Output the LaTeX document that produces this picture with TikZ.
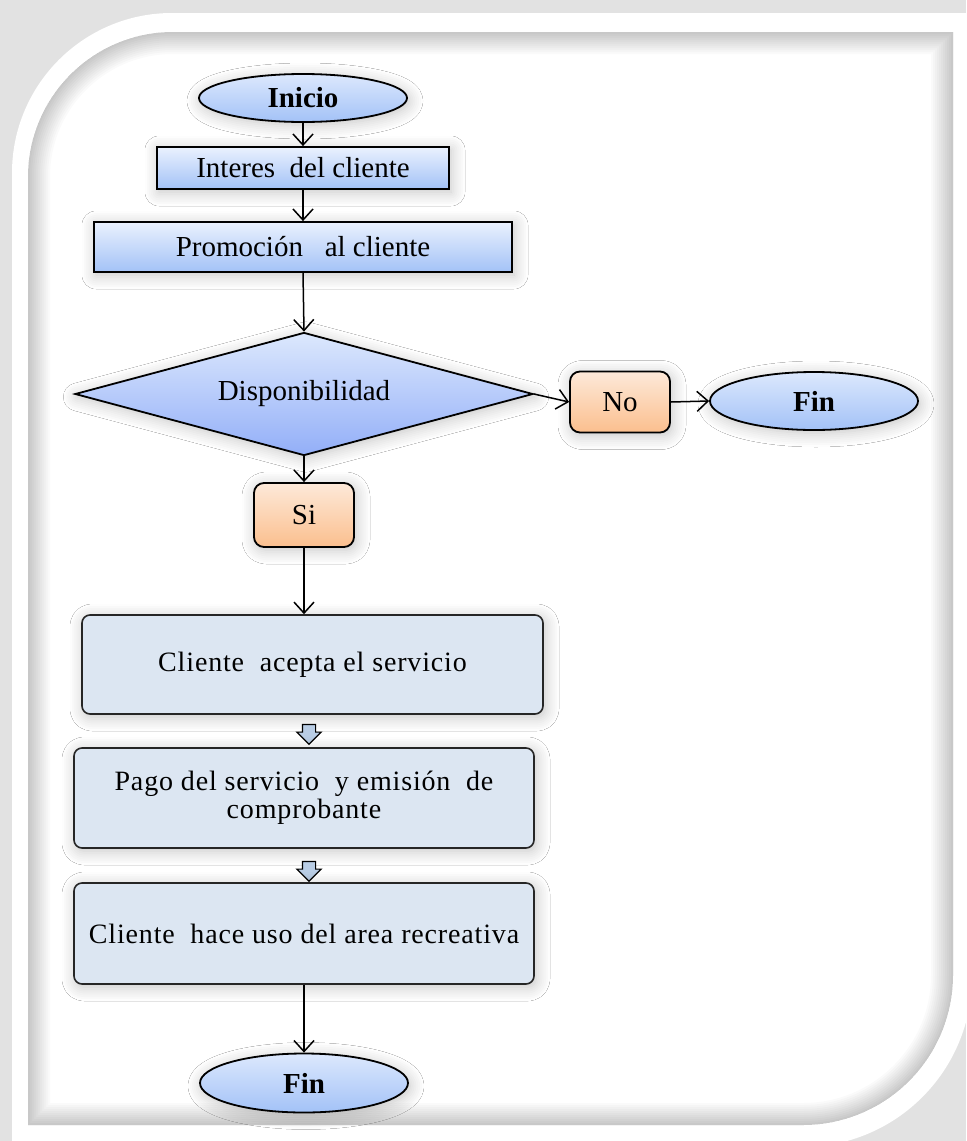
\documentclass[tikz,border=0pt]{standalone}
\usepackage{fontspec}
\setmainfont{Liberation Serif}
\usetikzlibrary{shapes.geometric,shapes.arrows,arrows.meta,shadows.blur}

\definecolor{azulclaro}{HTML}{DCE8FD}
\definecolor{azuloscuro}{HTML}{A3C2F7}
\definecolor{naranjaclaro}{HTML}{FDE9D9}
\definecolor{naranjaoscuro}{HTML}{FBBF8E}
\definecolor{etapafondo}{HTML}{DCE6F2}
\definecolor{bloquefondo}{HTML}{B9CDE5}
\definecolor{marcofondo}{HTML}{E2E2E2}

\tikzset{
  sombra/.style={blur shadow={shadow xshift=1pt,shadow yshift=-1.5pt,shadow blur radius=7pt,shadow blur steps=8,shadow opacity=24}},
  terminal/.style={ellipse,draw,line width=0.9pt,top color=azulclaro,bottom color=azuloscuro,
    inner sep=0pt,minimum width=104pt,font=\fontsize{14.5}{17}\selectfont\bfseries,sombra},
  proceso/.style={rectangle,draw,line width=0.9pt,top color=azulclaro!60!white,bottom color=azuloscuro,
    inner sep=0pt,minimum height=21pt,font=\fontsize{14.5}{17}\selectfont,sombra},
  decision/.style={diamond,draw,line width=0.9pt,top color=azulclaro,bottom color=azuloscuro!90!blue,
    inner sep=0pt,aspect=3.7,minimum width=229pt,minimum height=61.5pt,font=\fontsize{14.5}{17}\selectfont,sombra},
  respuesta/.style={rectangle,rounded corners=5pt,draw,line width=0.9pt,top color=naranjaclaro,bottom color=naranjaoscuro,
    inner sep=0pt,minimum width=50pt,font=\fontsize{14.5}{17}\selectfont,sombra},
  etapa/.style={rectangle,rounded corners=4pt,draw=black!85,line width=0.8pt,fill=etapafondo,
    inner sep=0pt,minimum width=230pt,minimum height=50pt,align=center,
    font=\fontsize{14}{14}\selectfont\addfontfeature{LetterSpace=3},sombra},
  bloque/.style={single arrow,draw,line width=0.6pt,fill=bloquefondo,shape border rotate=270,
    inner sep=3pt,minimum height=8pt,single arrow head extend=2.75pt},
  flecha/.style={line width=0.75pt,-{Straight Barb[length=5.5pt,width=10pt]}}
}

\begin{document}
\begin{tikzpicture}[x=0.5pt,y=-0.5pt]
  \useasboundingbox (0,0) rectangle (966,1141);

  % marco
  \fill[marcofondo] (0,0) rectangle (966,1141);
  \fill[white] (12,1160) -- (12,173) arc[start angle=180,end angle=270,radius=160]
    -- (990,13) -- (990,977) -- (972,977) arc[start angle=0,end angle=90,radius=170] -- (802,1160) -- cycle;
  \begin{scope}
    \clip (28,1125) -- (28,177) arc[start angle=180,end angle=270,radius=145]
      -- (953,32) -- (953,975) arc[start angle=0,end angle=90,radius=150] -- cycle;
    \fill[white] (0,0) rectangle (966,1141);
    \foreach \ancho in {4,8,...,44}
      \draw[line width=\ancho*0.5pt,black,opacity=0.02] (28,1125) -- (28,177) arc[start angle=180,end angle=270,radius=145]
        -- (953,32) -- (953,975) arc[start angle=0,end angle=90,radius=150] -- cycle;
  \end{scope}

  % nodos
  \node[terminal,minimum height=24pt] (inicio) at (303,98) {Inicio};
  \node[proceso,minimum width=146pt] (interes) at (303,168) {Interes\ \ del cliente};
  \node[proceso,minimum width=209pt,minimum height=25pt] (promo) at (303,247) {Promoción\hspace{0.75em}al cliente};
  \node[decision] (dispo) at (304,394) {Disponibilidad};
  \node[respuesta,minimum height=30.5pt] (no) at (620,402) {No};
  \node[terminal,minimum height=29pt] (fin1) at (814,401) {Fin};
  \node[respuesta,minimum height=32pt] (si) at (304,515) {Si};
  \node[etapa,minimum width=230.5pt,minimum height=49.5pt] (acepta) at (312.5,664.5) {Cliente\ \ acepta el servicio};
  \node[bloque] (b1) at (309,731) {};
  \node[etapa] (pago) at (304,798) {Pago del servicio\ \ y emisión\ \ de\\comprobante};
  \node[bloque] (b2) at (309,868) {};
  \node[etapa,minimum height=50.5pt] (uso) at (304,933.5) {Cliente\ \ hace uso del area recreativa};
  \node[terminal,minimum height=29.5pt] (fin2) at (304,1083) {Fin};

  % conectores
  \draw[flecha] (inicio) -- (interes);
  \draw[flecha] (interes) -- (promo);
  \draw[flecha] (promo.south) -- (dispo.north);
  \draw[flecha] (dispo.east) -- (no.west);
  \draw[flecha] (no.east) -- (fin1.west);
  \draw[flecha] (dispo.south) -- (si.north);
  \draw[flecha] (si.south) -- (si.south |- acepta.north);
  \draw[flecha] (uso.south) -- (fin2.north);
\end{tikzpicture}
\end{document}
